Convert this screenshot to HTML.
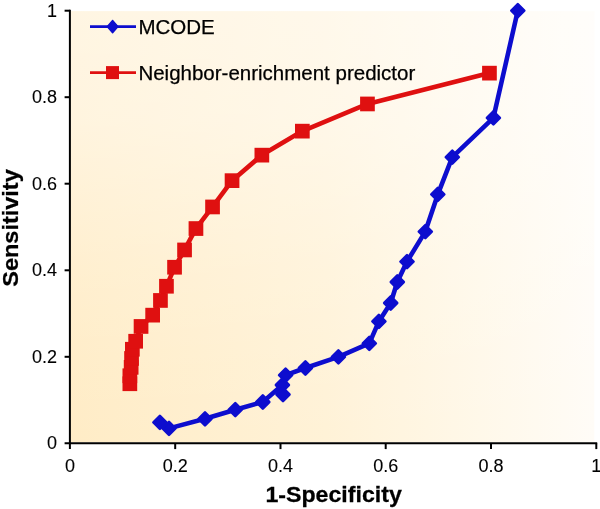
<!DOCTYPE html>
<html><head><meta charset="utf-8"><title>ROC</title>
<style>
html,body{margin:0;padding:0;background:#fff;}
svg{display:block;will-change:transform;}
text{font-family:"Liberation Sans",Arial,sans-serif;fill:#000;stroke:#000;stroke-width:0.25px;}
.t{font-size:18px;stroke-width:0.1px;}
.lg{font-size:20.5px;}
.ax{font-size:21.6px;font-weight:bold;}
</style></head><body>
<svg width="600" height="509" viewBox="0 0 600 509">
<defs>
<linearGradient id="bg" x1="0" y1="0" x2="1" y2="0">
<stop offset="0" stop-color="#ffecc6"/>
<stop offset="0.487" stop-color="#fff2d7"/>
<stop offset="0.731" stop-color="#fff7e6"/>
<stop offset="0.941" stop-color="#fffbf3"/>
<stop offset="1" stop-color="#fffcf7"/>
</linearGradient>
<linearGradient id="vf" x1="0" y1="0" x2="0" y2="1">
<stop offset="0" stop-color="#fff" stop-opacity="0.5"/>
<stop offset="0.25" stop-color="#fff" stop-opacity="0.43"/>
<stop offset="0.6" stop-color="#fff" stop-opacity="0.16"/>
<stop offset="0.82" stop-color="#fff" stop-opacity="0.05"/>
<stop offset="1" stop-color="#fff" stop-opacity="0"/>
</linearGradient>
</defs>
<rect x="0" y="0" width="600" height="509" fill="#fff"/>
<rect x="70" y="11.3" width="524.3" height="431" fill="url(#bg)"/>
<rect x="70" y="11.3" width="524.3" height="431" fill="url(#vf)"/>

<g stroke="#000" stroke-width="2" fill="none">
<path d="M69.9 9.8V449.1"/>
<path d="M64.6 443.3H597.2"/>
<path d="M64.6 356.8H69.9"/>
<path d="M175.2 443.3V449.1"/>
<path d="M64.6 270.3H69.9"/>
<path d="M280.5 443.3V449.1"/>
<path d="M64.6 183.7H69.9"/>
<path d="M385.7 443.3V449.1"/>
<path d="M64.6 97.2H69.9"/>
<path d="M491.0 443.3V449.1"/>
<path d="M64.6 10.7H69.9"/>
<path d="M596.3 443.3V449.1"/>
</g>
<text class="t" x="57" y="449.1" text-anchor="end">0</text>
<text class="t" x="69.9" y="472.3" text-anchor="middle">0</text>
<text class="t" x="57" y="362.6" text-anchor="end">0.2</text>
<text class="t" x="175.2" y="472.3" text-anchor="middle">0.2</text>
<text class="t" x="57" y="276.1" text-anchor="end">0.4</text>
<text class="t" x="280.5" y="472.3" text-anchor="middle">0.4</text>
<text class="t" x="57" y="189.5" text-anchor="end">0.6</text>
<text class="t" x="385.7" y="472.3" text-anchor="middle">0.6</text>
<text class="t" x="57" y="103.0" text-anchor="end">0.8</text>
<text class="t" x="491.0" y="472.3" text-anchor="middle">0.8</text>
<text class="t" x="57" y="16.5" text-anchor="end">1</text>
<text class="t" x="596.3" y="472.3" text-anchor="middle">1</text>
<text class="ax" transform="translate(333.6,502.3) scale(1.072,1)" text-anchor="middle">1-Specificity</text>
<text class="ax" transform="translate(18.1,228) rotate(-90) scale(1.088,1)" text-anchor="middle">Sensitivity</text>
<polyline points="129.8,383.8 129.8,375.8 131.2,367.4 131.6,358.5 132.3,349.3 135.7,341.3 141.0,326.5 152.7,315.1 160.4,300.5 166.4,286.3 174.6,267.3 184.5,249.9 195.9,228.6 212.5,206.9 232.0,180.7 261.9,155.1 302.4,131.1 367.5,103.9 489.5,73.1" fill="none" stroke="#df1010" stroke-width="4.6" stroke-linejoin="round"/>
<rect x="122.5" y="376.4" width="14.7" height="14.7" fill="#df1010"/>
<rect x="122.5" y="368.4" width="14.7" height="14.7" fill="#df1010"/>
<rect x="123.8" y="360.0" width="14.7" height="14.7" fill="#df1010"/>
<rect x="124.2" y="351.1" width="14.7" height="14.7" fill="#df1010"/>
<rect x="125.0" y="341.9" width="14.7" height="14.7" fill="#df1010"/>
<rect x="128.3" y="333.9" width="14.7" height="14.7" fill="#df1010"/>
<rect x="133.7" y="319.1" width="14.7" height="14.7" fill="#df1010"/>
<rect x="145.3" y="307.8" width="14.7" height="14.7" fill="#df1010"/>
<rect x="153.1" y="293.1" width="14.7" height="14.7" fill="#df1010"/>
<rect x="159.1" y="278.9" width="14.7" height="14.7" fill="#df1010"/>
<rect x="167.2" y="259.9" width="14.7" height="14.7" fill="#df1010"/>
<rect x="177.2" y="242.6" width="14.7" height="14.7" fill="#df1010"/>
<rect x="188.6" y="221.2" width="14.7" height="14.7" fill="#df1010"/>
<rect x="205.2" y="199.6" width="14.7" height="14.7" fill="#df1010"/>
<rect x="224.7" y="173.3" width="14.7" height="14.7" fill="#df1010"/>
<rect x="254.5" y="147.8" width="14.7" height="14.7" fill="#df1010"/>
<rect x="295.0" y="123.8" width="14.7" height="14.7" fill="#df1010"/>
<rect x="360.1" y="96.6" width="14.7" height="14.7" fill="#df1010"/>
<rect x="482.1" y="65.8" width="14.7" height="14.7" fill="#df1010"/>
<polyline points="159.9,422.3 169.0,428.4 205.0,418.8 235.3,409.7 262.8,402.0 282.4,385.0 283.0,394.5 285.6,375.2 305.4,368.0 338.4,356.9 369.3,343.3 378.9,321.4 390.7,303.0 397.3,282.0 407.0,261.6 425.3,231.6 437.8,194.4 452.3,157.2 493.4,117.8 517.8,10.6" fill="none" stroke="#0d0dce" stroke-width="4.6" stroke-linejoin="round"/>
<path d="M159.9 415.8L166.4 422.3L159.9 428.8L153.4 422.3Z" fill="#0d0dce" stroke="#0d0dce" stroke-width="2.6" stroke-linejoin="round"/>
<path d="M169.0 421.9L175.5 428.4L169.0 434.9L162.5 428.4Z" fill="#0d0dce" stroke="#0d0dce" stroke-width="2.6" stroke-linejoin="round"/>
<path d="M205.0 412.3L211.5 418.8L205.0 425.3L198.5 418.8Z" fill="#0d0dce" stroke="#0d0dce" stroke-width="2.6" stroke-linejoin="round"/>
<path d="M235.3 403.2L241.8 409.7L235.3 416.2L228.8 409.7Z" fill="#0d0dce" stroke="#0d0dce" stroke-width="2.6" stroke-linejoin="round"/>
<path d="M262.8 395.5L269.3 402.0L262.8 408.5L256.3 402.0Z" fill="#0d0dce" stroke="#0d0dce" stroke-width="2.6" stroke-linejoin="round"/>
<path d="M282.4 378.5L288.9 385.0L282.4 391.5L275.9 385.0Z" fill="#0d0dce" stroke="#0d0dce" stroke-width="2.6" stroke-linejoin="round"/>
<path d="M283.0 388.0L289.5 394.5L283.0 401.0L276.5 394.5Z" fill="#0d0dce" stroke="#0d0dce" stroke-width="2.6" stroke-linejoin="round"/>
<path d="M285.6 368.7L292.1 375.2L285.6 381.7L279.1 375.2Z" fill="#0d0dce" stroke="#0d0dce" stroke-width="2.6" stroke-linejoin="round"/>
<path d="M305.4 361.5L311.9 368.0L305.4 374.5L298.9 368.0Z" fill="#0d0dce" stroke="#0d0dce" stroke-width="2.6" stroke-linejoin="round"/>
<path d="M338.4 350.4L344.9 356.9L338.4 363.4L331.9 356.9Z" fill="#0d0dce" stroke="#0d0dce" stroke-width="2.6" stroke-linejoin="round"/>
<path d="M369.3 336.8L375.8 343.3L369.3 349.8L362.8 343.3Z" fill="#0d0dce" stroke="#0d0dce" stroke-width="2.6" stroke-linejoin="round"/>
<path d="M378.9 314.9L385.4 321.4L378.9 327.9L372.4 321.4Z" fill="#0d0dce" stroke="#0d0dce" stroke-width="2.6" stroke-linejoin="round"/>
<path d="M390.7 296.5L397.2 303.0L390.7 309.5L384.2 303.0Z" fill="#0d0dce" stroke="#0d0dce" stroke-width="2.6" stroke-linejoin="round"/>
<path d="M397.3 275.5L403.8 282.0L397.3 288.5L390.8 282.0Z" fill="#0d0dce" stroke="#0d0dce" stroke-width="2.6" stroke-linejoin="round"/>
<path d="M407.0 255.1L413.5 261.6L407.0 268.1L400.5 261.6Z" fill="#0d0dce" stroke="#0d0dce" stroke-width="2.6" stroke-linejoin="round"/>
<path d="M425.3 225.1L431.8 231.6L425.3 238.1L418.8 231.6Z" fill="#0d0dce" stroke="#0d0dce" stroke-width="2.6" stroke-linejoin="round"/>
<path d="M437.8 187.9L444.3 194.4L437.8 200.9L431.3 194.4Z" fill="#0d0dce" stroke="#0d0dce" stroke-width="2.6" stroke-linejoin="round"/>
<path d="M452.3 150.7L458.8 157.2L452.3 163.7L445.8 157.2Z" fill="#0d0dce" stroke="#0d0dce" stroke-width="2.6" stroke-linejoin="round"/>
<path d="M493.4 111.3L499.9 117.8L493.4 124.3L486.9 117.8Z" fill="#0d0dce" stroke="#0d0dce" stroke-width="2.6" stroke-linejoin="round"/>
<path d="M517.8 4.1L524.3 10.6L517.8 17.1L511.3 10.6Z" fill="#0d0dce" stroke="#0d0dce" stroke-width="2.6" stroke-linejoin="round"/>
<path d="M90 26.6H136" stroke="#0d0dce" stroke-width="2.6"/>
<path d="M112.6 20.4L118.0 26.6L112.6 32.8L107.2 26.6Z" fill="#0d0dce" stroke="#0d0dce" stroke-width="1.4" stroke-linejoin="round"/>
<text class="lg" x="138.4" y="34.2">MCODE</text>
<path d="M90 72.6H136" stroke="#df1010" stroke-width="2.6"/>
<rect x="106.0" y="66.1" width="13" height="13" fill="#df1010"/>
<text class="lg" x="138.4" y="80.2">Neighbor-enrichment predictor</text>
</svg></body></html>
